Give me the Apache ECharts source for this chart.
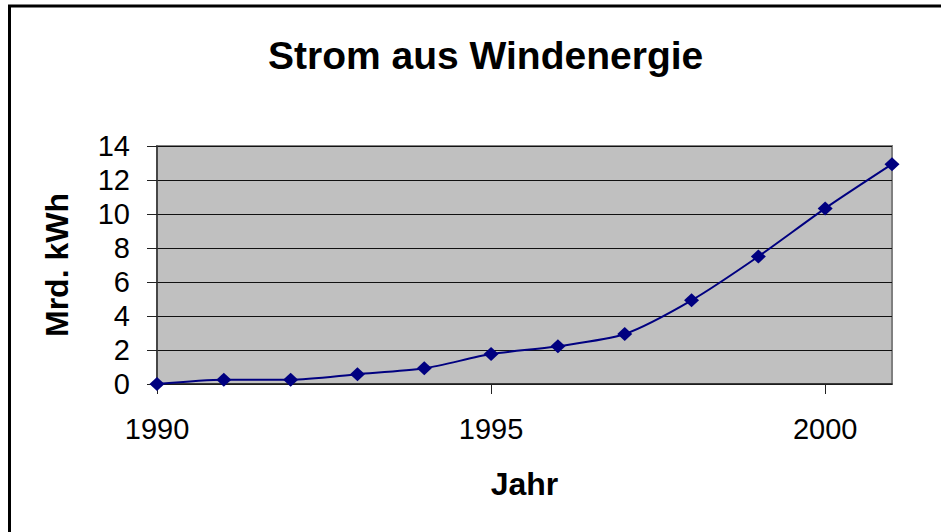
<!DOCTYPE html>
<html>
<head>
<meta charset="utf-8">
<script src="https://cdn.jsdelivr.net/npm/echarts@6/dist/echarts.min.js"></script>
<style>
html,body{margin:0;padding:0;background:#fff;}
#c{width:941px;height:532px;}
</style>
</head>
<body>
<div id="c"></div>
<script>
const titleText = 'Strom aus Windenergie';
const xName = 'Jahr';
const yName = 'Mrd. kWh';
const years = [1990, 1991, 1992, 1993, 1994, 1995, 1996, 1997, 1998, 1999, 2000, 2001];
const values = [0.0, 0.25, 0.25, 0.58, 0.92, 1.76, 2.22, 2.94, 4.92, 7.5, 10.33, 12.93];
const xTicks = [1990, 1995, 2000];
const yTicks = [0, 2, 4, 6, 8, 10, 12, 14];

const chart = echarts.init(document.getElementById('c'), null, {renderer: 'svg'});
const font = 'Liberation Sans, Arial, sans-serif';
chart.setOption({
  animation: false,
  backgroundColor: '#fff',
  graphic: [{
    type: 'rect', silent: true,
    shape: {x: 9.5, y: 6, width: 1200, height: 1000},
    style: {fill: 'none', stroke: '#000', lineWidth: 3}
  }],
  title: {
    text: titleText,
    left: 263, top: 31,
    textStyle: {fontFamily: font, fontSize: 39, fontWeight: 'bold', color: '#000'}
  },
  grid: {
    left: 157, right: 49, top: 146, bottom: 148,
    show: true, backgroundColor: '#C0C0C0', borderColor: '#808080', borderWidth: 2
  },
  xAxis: {
    type: 'value', min: 1990, max: 2001, interval: 5,
    name: xName, nameLocation: 'middle', nameGap: 84,
    nameTextStyle: {fontFamily: font, fontSize: 32, fontWeight: 'bold', color: '#000'},
    axisLine: {show: true, onZero: false, lineStyle: {color: '#222', width: 1.5}},
    axisTick: {show: true, length: 10, customValues: xTicks, lineStyle: {color: '#222'}},
    axisLabel: {customValues: xTicks, margin: 30, fontFamily: font, fontSize: 29, color: '#000',
      formatter: v => String(v)},
    splitLine: {show: false}
  },
  yAxis: {
    type: 'value', min: 0, max: 14, interval: 2,
    name: yName, nameLocation: 'middle', nameGap: 84,
    nameTextStyle: {fontFamily: font, fontSize: 32, fontWeight: 'bold', color: '#000'},
    axisLine: {show: true, lineStyle: {color: '#333', width: 1.5}},
    axisTick: {show: true, length: 10, lineStyle: {color: '#222'}},
    axisLabel: {margin: 27, fontFamily: font, fontSize: 29, color: '#000'},
    splitLine: {show: true, lineStyle: {color: '#111', width: 1}}
  },
  series: [{
    type: 'line',
    data: years.map((y, i) => [y, values[i]]),
    smooth: 0.25,
    symbol: 'diamond',
    symbolSize: [15, 14],
    lineStyle: {color: '#000080', width: 2},
    itemStyle: {color: '#000080'},
    clip: false
  }]
});
</script>
</body>
</html>
